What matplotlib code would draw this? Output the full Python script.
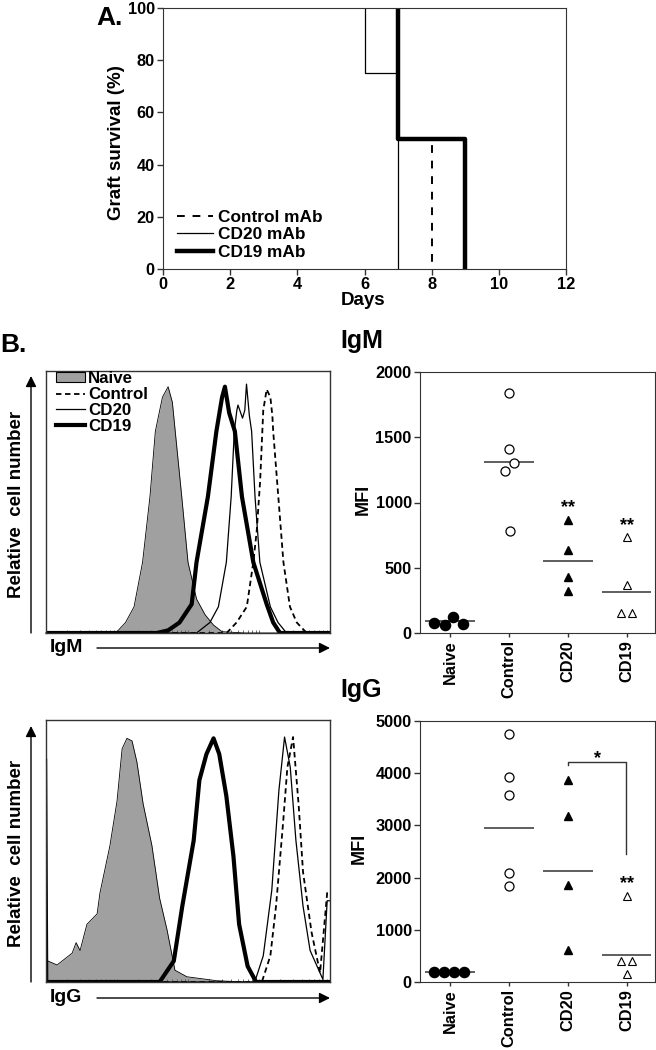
import numpy as np
import matplotlib
matplotlib.use('Agg')
import matplotlib.pyplot as plt
from matplotlib.patches import Patch
from matplotlib.lines import Line2D

plt.rcParams['font.family'] = ['Liberation Sans', 'DejaVu Sans']
plt.rcParams['font.weight'] = 'bold'
plt.rcParams['axes.labelweight'] = 'bold'

# ---- panel A: graft survival, event days and % surviving after each event ----
ctrl_days = [7, 8]
ctrl_surv = [50, 0]
cd20_days = [6, 7]
cd20_surv = [75, 0]
cd19_days = [7, 9]
cd19_surv = [50, 0]

# ---- panel B: flow histograms (x, y as fraction of the plot box) ----
igm_naive_x = [0.0, 0.20, 0.25, 0.28, 0.31, 0.34, 0.366, 0.385, 0.41, 0.43, 0.445, 0.455, 0.478, 0.50, 0.53, 0.56, 0.59, 0.62, 0.70, 1.0]
igm_naive_y = [0, 0, 0.005, 0.04, 0.10, 0.27, 0.52, 0.77, 0.90, 0.94, 0.88, 0.77, 0.52, 0.27, 0.13, 0.07, 0.03, 0.005, 0, 0]
igm_cd19_x = [0, 0.39, 0.43, 0.47, 0.513, 0.53, 0.57, 0.60, 0.62, 0.63, 0.645, 0.665, 0.69, 0.73, 0.777, 0.80, 0.824, 1.0]
igm_cd19_y = [0, 0, 0.01, 0.04, 0.11, 0.27, 0.52, 0.77, 0.90, 0.94, 0.84, 0.77, 0.52, 0.27, 0.11, 0.04, 0, 0]
igm_cd20_x = [0, 0.53, 0.577, 0.607, 0.635, 0.652, 0.663, 0.672, 0.676, 0.692, 0.70, 0.706, 0.716, 0.724, 0.736, 0.753, 0.79, 0.817, 0.847, 1.0]
igm_cd20_y = [0, 0, 0.04, 0.10, 0.27, 0.52, 0.77, 0.85, 0.87, 0.82, 0.85, 0.95, 0.83, 0.77, 0.52, 0.27, 0.10, 0.04, 0, 0]
igm_ctrl_x = [0, 0.636, 0.671, 0.707, 0.73, 0.742, 0.754, 0.765, 0.777, 0.79, 0.797, 0.80, 0.818, 0.836, 0.859, 0.883, 0.918, 1.0]
igm_ctrl_y = [0, 0, 0.04, 0.10, 0.27, 0.39, 0.58, 0.85, 0.93, 0.90, 0.83, 0.77, 0.52, 0.27, 0.10, 0.04, 0, 0]

igg_naive_x = [0.0, 0.007, 0.039, 0.092, 0.106, 0.12, 0.144, 0.18, 0.19, 0.225, 0.25, 0.268, 0.285, 0.303, 0.32, 0.342, 0.373, 0.40, 0.426, 0.454, 0.496, 0.60, 0.70, 1.0]
igg_naive_y = [0.08, 0.08, 0.065, 0.11, 0.15, 0.12, 0.22, 0.26, 0.34, 0.52, 0.69, 0.89, 0.93, 0.92, 0.84, 0.68, 0.52, 0.32, 0.20, 0.045, 0.02, 0.005, 0, 0]
igg_cd19_x = [0, 0.40, 0.45, 0.48, 0.52, 0.54, 0.565, 0.59, 0.61, 0.635, 0.66, 0.68, 0.71, 0.74, 1.0]
igg_cd19_y = [0, 0, 0.08, 0.29, 0.54, 0.77, 0.87, 0.93, 0.87, 0.71, 0.48, 0.22, 0.06, 0, 0]
igg_cd20_x = [0.002, 0.006, 0.735, 0.765, 0.795, 0.82, 0.84, 0.86, 0.88, 0.905, 0.93, 0.975, 0.99, 1.0]
igg_cd20_y = [0.85, 0, 0, 0.10, 0.35, 0.73, 0.935, 0.82, 0.54, 0.29, 0.12, 0.01, 0.31, 0.31]
igg_ctrl_x = [0, 0.76, 0.79, 0.81, 0.835, 0.85, 0.87, 0.89, 0.905, 0.935, 0.965, 0.99, 1.0]
igg_ctrl_y = [0, 0, 0.10, 0.29, 0.61, 0.82, 0.935, 0.67, 0.42, 0.19, 0.035, 0.34, 0.34]

# ---- panel B: MFI scatter ----
groups = ['Naive', 'Control', 'CD20', 'CD19']
igm_naive = [77, 59, 123, 72]
igm_ctrl = [1837, 1410, 1305, 1243, 779]
igm_cd20 = [866, 636, 432, 322]
igm_cd19 = [738, 365, 151, 151]
igm_means = [90, 1313, 554, 312]

igg_naive = [192, 192, 192, 192]
igg_ctrl = [4745, 3927, 3576, 2095, 1839]
igg_cd20 = [3864, 3174, 1865, 619]
igg_cd19 = [1642, 397, 397, 160]
igg_means = [192, 2950, 2126, 524]

W, H = 656, 1050
fig = plt.figure(figsize=(W / 100, H / 100), dpi=100)


def box(l, t, r, b):
    return [l / W, 1 - b / H, (r - l) / W, (b - t) / H]


def fpos(x, y):
    return (x / W, 1 - y / H)


def bold_ticks(ax):
    for t in ax.get_xticklabels() + ax.get_yticklabels():
        t.set_fontweight('bold')


SP = '#333333'

# ================= A =================
axA = fig.add_axes(box(163, 8, 566, 269))
for days, surv, kw in [(cd20_days, cd20_surv, dict(lw=0.9)),
                       (cd19_days, cd19_surv, dict(lw=3.2)),
                       (ctrl_days, ctrl_surv, dict(lw=1.4, ls=(0, (4, 4))))]:
    axA.step([days[0]] + days, [100] + surv, where='post', color='k', **kw)
axA.set_xlim(0, 12)
axA.set_ylim(0, 100)
axA.set_xticks(range(0, 13, 2))
axA.set_yticks(range(0, 101, 20))
axA.tick_params(labelsize=11.8, length=4, width=1, color=SP, pad=2)
bold_ticks(axA)
for s in axA.spines.values():
    s.set_color(SP)
axA.set_ylabel('Graft survival (%)', fontsize=13.5)
axA.yaxis.set_label_coords(-0.094, 0.485)
axA.set_xlabel('Days', fontsize=13.5, va='top')
axA.xaxis.set_label_coords(0.496, -0.09)
hA = [Line2D([], [], color='k', lw=1.4, ls=(0, (4, 4))),
      Line2D([], [], color='k', lw=0.9),
      Line2D([], [], color='k', lw=3.2)]
axA.legend(hA, ['Control mAb', 'CD20 mAb', 'CD19 mAb'], loc='lower left',
           bbox_to_anchor=(0.035, 0.035), frameon=False, fontsize=12.4,
           handlelength=2.1, handletextpad=0.3, labelspacing=0.15, borderpad=0,
           borderaxespad=0)
fig.text(123 / W, 1 - 25 / H, 'A.', fontsize=19, ha='right', va='baseline')
fig.text(0 / W, 1 - 352 / H, 'B.', fontsize=19, ha='left', va='baseline')


# ================= histograms =================
def hist_axes(rect, naive, cd19, cd20, ctrl, xlab, arrow_y, top_y, bot_y):
    ax = fig.add_axes(rect)
    ax.fill_between(naive[0], naive[1], color='#a0a0a0', lw=0)
    ax.plot(naive[0], naive[1], color='k', lw=0.6)
    ax.plot(cd19[0], cd19[1], color='k', lw=3.0)
    ax.plot(cd20[0], cd20[1], color='k', lw=0.9, clip_on=False)
    ax.plot(ctrl[0], ctrl[1], color='k', lw=1.3, ls=(0, (3, 2)))
    ax.set_xlim(0, 1)
    ax.set_ylim(0, 1)
    ax.set_yticks([])
    ax.set_xticks([0.25, 0.5, 0.75])
    minor = [d + 0.25 * np.log10(k) for d in (0, 0.25, 0.5, 0.75) for k in range(2, 10)]
    ax.set_xticks(minor, minor=True)
    ax.set_xticklabels([])
    ax.tick_params(axis='x', which='both', direction='in', length=2, width=0.6, color='#555555')
    for s in ax.spines.values():
        s.set_color(SP)
        s.set_linewidth(1.0)
    ax.set_ylabel('Relative  cell number', fontsize=13.5)
    ax.yaxis.set_label_coords(-0.074, 0.49)
    fig.text(50 / W, 1 - arrow_y / H, xlab, fontsize=14, ha='left', va='center')
    ax.annotate('', xy=fpos(330, arrow_y), xytext=fpos(97, arrow_y), xycoords='figure fraction',
                textcoords='figure fraction', annotation_clip=False,
                arrowprops=dict(arrowstyle='-|>', color='k', lw=1.0, mutation_scale=16, shrinkA=0, shrinkB=0))
    ax.annotate('', xy=fpos(31, top_y), xytext=fpos(31, bot_y), xycoords='figure fraction',
                textcoords='figure fraction', annotation_clip=False,
                arrowprops=dict(arrowstyle='-|>', color='k', lw=1.0, mutation_scale=16, shrinkA=0, shrinkB=0))
    return ax


axM = hist_axes(box(46, 371, 330, 633), (igm_naive_x, igm_naive_y), (igm_cd19_x, igm_cd19_y),
                (igm_cd20_x, igm_cd20_y), (igm_ctrl_x, igm_ctrl_y), 'IgM', 648, 376, 633)
hB = [Patch(facecolor='#a0a0a0', edgecolor='k', lw=0.8),
      Line2D([], [], color='k', lw=1.3, ls=(0, (3, 2))),
      Line2D([], [], color='k', lw=0.9),
      Line2D([], [], color='k', lw=3.0)]
axM.legend(hB, ['Naive', 'Control', 'CD20', 'CD19'], loc='upper left',
           bbox_to_anchor=(0.035, 1.0), frameon=False, fontsize=12.2,
           handlelength=1.7, handleheight=0.45, handletextpad=0.2, labelspacing=0.05,
           borderpad=0, borderaxespad=0)

axG = hist_axes(box(46, 720, 330, 982), (igg_naive_x, igg_naive_y), (igg_cd19_x, igg_cd19_y),
                (igg_cd20_x, igg_cd20_y), (igg_ctrl_x, igg_ctrl_y), 'IgG', 998, 726, 982)


# ================= scatter =================
def scatter_axes(rect, data, offsets, means, ymax, step, lab_x):
    ax = fig.add_axes(rect)
    styles = [dict(marker='o', mfc='k', mec='k', ms=7.3),
              dict(marker='o', mfc='white', mec='k', ms=6.5, mew=0.9),
              dict(marker='^', mfc='k', mec='k', ms=6.2),
              dict(marker='^', mfc='white', mec='k', ms=6.2, mew=0.8)]
    for i, (vals, offs, st) in enumerate(zip(data, offsets, styles)):
        xs = [i + 1 + o for o in offs]
        ax.plot(xs, vals, ls='none', zorder=3, **st)
        ax.hlines(means[i], i + 1 - 0.42, i + 1 + 0.42, color=SP, lw=1.1, zorder=2)
    ax.set_xlim(0.49, 4.48)
    ax.set_ylim(0, ymax)
    ax.set_yticks(np.arange(0, ymax + 1, step))
    ax.set_xticks([1, 2, 3, 4])
    ax.set_xticklabels(groups, rotation=90, fontsize=11.8)
    ax.tick_params(axis='y', labelsize=11.8, length=4, width=1, color=SP, pad=2)
    ax.tick_params(axis='x', length=3, width=1, color=SP, pad=2)
    bold_ticks(ax)
    for s in ax.spines.values():
        s.set_color(SP)
    ax.set_ylabel('MFI', fontsize=13)
    ax.yaxis.set_label_coords(lab_x, 0.513)
    return ax


offs_m = [[-0.27, -0.085, 0.056, 0.215], [0, 0, 0.08, -0.065, 0.01], [0, 0, 0, 0], [0, 0, -0.09, 0.09]]
offs_g = [[-0.28, -0.11, 0.07, 0.24], [0, 0, 0, 0, 0], [0, 0, 0, 0], [0, -0.09, 0.09, 0]]

axSM = scatter_axes(box(420, 372, 655, 633), [igm_naive, igm_ctrl, igm_cd20, igm_cd19],
                    offs_m, igm_means, 2000, 500, -0.204)
axSM.text(3, 960, '**', ha='center', va='center', fontsize=13)
axSM.text(4, 825, '**', ha='center', va='center', fontsize=13)
fig.text(340 / W, 1 - 348 / H, 'IgM', fontsize=18, ha='left', va='baseline')

axSG = scatter_axes(box(420, 721, 655, 982), [igg_naive, igg_ctrl, igg_cd20, igg_cd19],
                    offs_g, igg_means, 5000, 1000, -0.221)
axSG.text(4, 1880, '**', ha='center', va='center', fontsize=13)
axSG.plot([3.01, 3.01, 3.99, 3.99], [4150, 4215, 4215, 2460], color=SP, lw=1.0)
axSG.text(3.5, 4280, '*', ha='center', va='center', fontsize=13)
fig.text(340 / W, 1 - 697 / H, 'IgG', fontsize=18, ha='left', va='baseline')

fig.savefig('out.png', dpi=100)
